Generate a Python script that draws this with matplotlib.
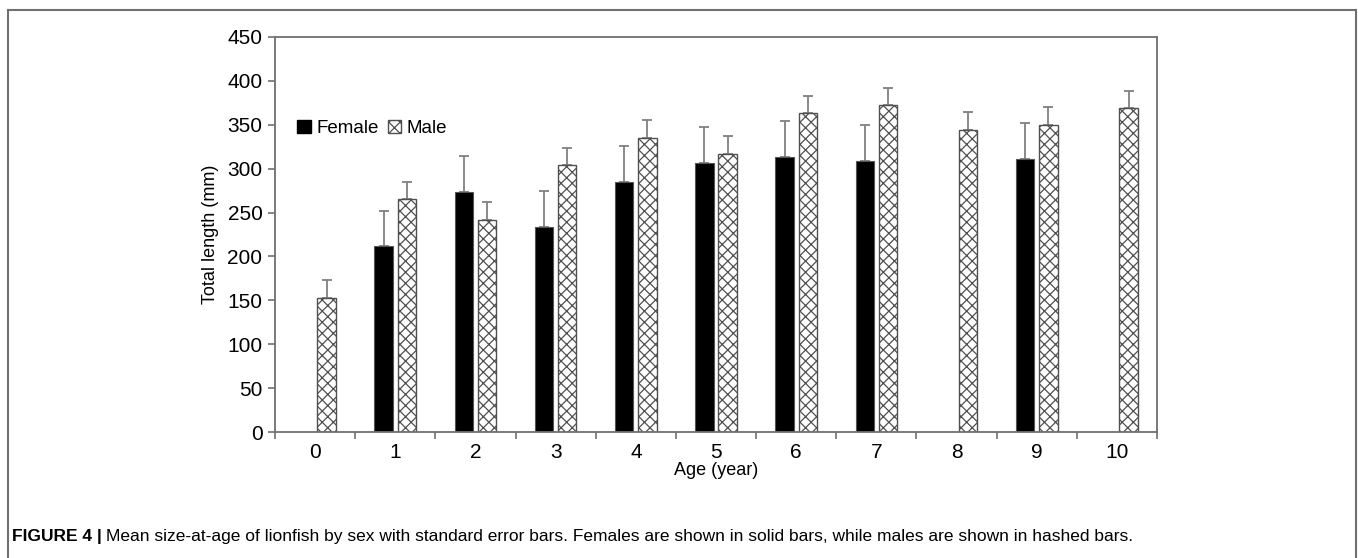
import matplotlib.pyplot as plt
import numpy as np
from matplotlib.patches import Patch

plt.rcParams['font.family'] = ['Liberation Sans', 'DejaVu Sans']

ages = [0, 1, 2, 3, 4, 5, 6, 7, 8, 9, 10]
female_mean = [np.nan, 212, 273, 233, 285, 306, 313, 309, np.nan, 311, np.nan]
female_se = [0, 40, 41, 41, 41, 41, 41, 41, 0, 41, 0]
male_mean = [153, 265, 242, 304, 335, 317, 363, 372, 344, 350, 369]
male_se = [20, 20, 20, 20, 20, 20, 20, 20, 20, 20, 20]

caption_bold = 'FIGURE 4 |'
caption_text = ('Mean size-at-age of lionfish by sex with standard error bars. '
                'Females are shown in solid bars, while males are shown in hashed bars.')

plt.rcParams['hatch.linewidth'] = 0.9

fig = plt.figure(figsize=(13.58, 5.58), dpi=100)
ax = fig.add_axes([275 / 1358, 1 - 432 / 558, (1157 - 275) / 1358, (432 - 37) / 558])

x = np.arange(len(ages))
w = 0.23
off = 0.145
fx = x - off
mx = x + off
fm = np.array(female_mean, dtype=float)
ok = ~np.isnan(fm)

ax.bar(fx[ok], fm[ok], width=w, color='black', edgecolor='#555555', linewidth=0.8, zorder=2)
ax.bar(mx, male_mean, width=w, color='white', edgecolor='#505050', hatch='xxx',
       linewidth=1.0, zorder=2)

ax.errorbar(fx[ok], fm[ok], yerr=[np.zeros(ok.sum()), np.array(female_se)[ok]],
            fmt='none', ecolor='#808080', elinewidth=1.3, capsize=3.5, capthick=1.3, zorder=1)
ax.errorbar(mx, male_mean, yerr=[np.zeros(len(ages)), male_se],
            fmt='none', ecolor='#808080', elinewidth=1.3, capsize=3.5, capthick=1.3, zorder=1)

ax.set_xlim(-0.5, 10.5)
ax.set_ylim(0, 450)
ax.set_yticks(np.arange(0, 451, 50))
ax.set_xticks(np.arange(-0.5, 11, 1))
ax.set_xticklabels([])
ax.set_xticks(x, minor=True)
ax.set_xticklabels([str(a) for a in ages], minor=True)
ax.tick_params(axis='x', which='major', direction='out', length=5, color='#707070', width=1.2)
ax.tick_params(axis='x', which='minor', length=0, labelsize=15, pad=8)
ax.tick_params(axis='y', direction='out', length=5, color='#707070', width=1.2,
               labelsize=15, pad=4)
for s in ax.spines.values():
    s.set_color('#707070')
    s.set_linewidth(1.3)

ax.set_ylabel('Total length (mm)', fontsize=13, labelpad=6)
ax.set_xlabel('Age (year)', fontsize=13, labelpad=0)

handles = [Patch(facecolor='black', edgecolor='black'),
           Patch(facecolor='white', edgecolor='#505050', hatch='xxx')]
ax.legend(handles, ['Female', 'Male'], loc='upper left', bbox_to_anchor=(0.017, 0.81),
          ncol=2, frameon=False, fontsize=13.5, handlelength=0.7, handleheight=0.7,
          handletextpad=0.3, columnspacing=0.5, borderaxespad=0)

# outer frame around figure and caption
fig.add_artist(plt.Line2D([8 / 1358, 8 / 1358], [0, 1 - 10 / 558], color='#707070', lw=1.5))
fig.add_artist(plt.Line2D([8 / 1358, 1356 / 1358], [1 - 10 / 558, 1 - 10 / 558], color='#707070', lw=1.5))
fig.add_artist(plt.Line2D([1356 / 1358, 1356 / 1358], [0, 1 - 10 / 558], color='#707070', lw=1.5))

t = fig.text(12 / 1358, 1 - 537 / 558, caption_bold, fontsize=12.5, fontweight='bold', va='center')
fig.canvas.draw()
bb = t.get_window_extent()
fig.text((bb.x1 + 4) / 1358, 1 - 537 / 558, caption_text, fontsize=12.5, va='center')

fig.savefig('out.png', dpi=100)
